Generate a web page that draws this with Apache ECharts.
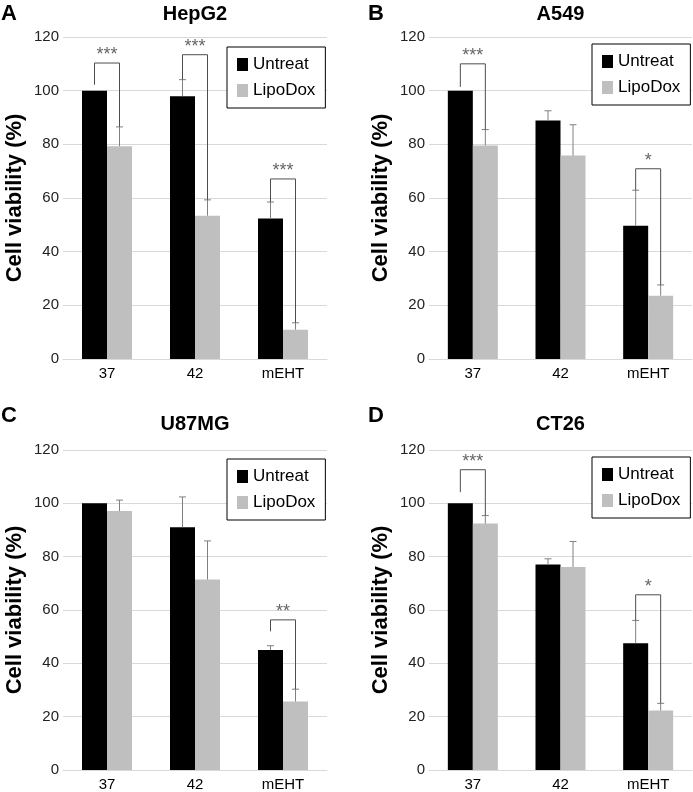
<!DOCTYPE html>
<html>
<head>
<meta charset="utf-8">
<script src="https://cdn.jsdelivr.net/npm/echarts@6/dist/echarts.min.js"></script>
<style>
  html, body { margin: 0; padding: 0; background: #fff; }
  #chart { width: 693px; height: 792px; }
</style>
</head>
<body>
<div id="chart"></div>
<script>
// categories and series names
const categories = ['37', '42', 'mEHT'];
const seriesNames = ['Untreat', 'LipoDox'];

// HepG2
const hepg2Untreat    = [100, 97.9, 52.4];
const hepg2UntreatErr = [0, 6.2, 6.1];
const hepg2Lipo       = [79.3, 53.4, 10.9];
const hepg2LipoErr    = [7.2, 5.9, 2.6];
// [category, bracket top, left leg end, right leg end, label]
const hepg2Sig = [[0, 110.3, 102.2, 86.5, '***'], [1, 113.4, 104.1, 59.3, '***'], [2, 67.1, 58.5, 13.5, '***']];

// A549
const a549Untreat    = [100, 88.9, 49.7];
const a549UntreatErr = [0, 3.6, 13.2];
const a549Lipo       = [79.6, 75.8, 23.6];
const a549LipoErr    = [5.9, 11.5, 4.0];
const a549Sig = [[0, 110, 101.4, 85.5, '***'], [2, 70.9, 62.9, 27.6, '*']];

// U87MG
const u87Untreat    = [100, 91.0, 45.0];
const u87UntreatErr = [0, 11.4, 1.6];
const u87Lipo       = [97.1, 71.4, 25.7];
const u87LipoErr    = [4.1, 14.5, 4.6];
const u87Sig = [[2, 56.3, 52, 30.3, '**']];

// CT26
const ct26Untreat    = [100, 77.1, 47.5];
const ct26UntreatErr = [0, 2.1, 8.6];
const ct26Lipo       = [92.4, 76.1, 22.3];
const ct26LipoErr    = [3.0, 9.6, 2.7];
const ct26Sig = [[0, 112.6, 104.2, 95.4, '***'], [2, 65.7, 56.1, 25.0, '*']];

const panels = [
  { letter: 'A', title: 'HepG2', u: hepg2Untreat, ue: hepg2UntreatErr, l: hepg2Lipo, le: hepg2LipoErr, sig: hepg2Sig,
    grid: { left: 63, top: 37, width: 264, height: 322 }, legend: { left: 227, top: 47 }, letterX: 1, letterY: 3, titleY: 4 },
  { letter: 'B', title: 'A549', u: a549Untreat, ue: a549UntreatErr, l: a549Lipo, le: a549LipoErr, sig: a549Sig,
    grid: { left: 429, top: 37, width: 263, height: 322 }, legend: { left: 592, top: 44 }, letterX: 368, letterY: 3, titleY: 4 },
  { letter: 'C', title: 'U87MG', u: u87Untreat, ue: u87UntreatErr, l: u87Lipo, le: u87LipoErr, sig: u87Sig,
    grid: { left: 63, top: 450, width: 264, height: 322 }, legend: { left: 227, top: 459 }, letterX: 1, letterY: 405, titleY: 414 },
  { letter: 'D', title: 'CT26', u: ct26Untreat, ue: ct26UntreatErr, l: ct26Lipo, le: ct26LipoErr, sig: ct26Sig,
    grid: { left: 429, top: 450, width: 263, height: 322 }, legend: { left: 592, top: 457 }, letterX: 368, letterY: 405, titleY: 414 }
];

const FONT = '"Liberation Sans", Arial, sans-serif';
const BAR_W = 25;
const OFF = BAR_W / 2;

const chart = echarts.init(document.getElementById('chart'));

const grids = [], xAxes = [], yAxes = [], legends = [], series = [], graphics = [];

panels.forEach((p, i) => {
  grids.push(p.grid);
  xAxes.push({
    type: 'category', gridIndex: i, data: categories,
    axisLine: { lineStyle: { color: '#d9d9d9', width: 1 } },
    axisTick: { show: false },
    axisLabel: { fontSize: 15, color: '#000', fontFamily: FONT, margin: 7 }
  });
  yAxes.push({
    type: 'value', gridIndex: i, min: 0, max: 120, interval: 20,
    name: 'Cell viability (%)', nameLocation: 'middle', nameGap: 37, nameRotate: 90,
    nameTextStyle: { fontSize: 22, fontWeight: 'bold', color: '#000', fontFamily: FONT },
    axisLine: { show: false }, axisTick: { show: false },
    axisLabel: { fontSize: 15, color: '#222', fontFamily: FONT, margin: 4 },
    splitLine: { lineStyle: { color: '#d9d9d9', width: 1 } }
  });
  legends.push({
    left: p.legend.left, top: p.legend.top, orient: 'vertical',
    data: seriesNames, icon: 'rect', itemWidth: 11, itemHeight: 13, itemGap: 9,
    padding: [9, 10, 9, 10], borderColor: '#000', borderWidth: 1, backgroundColor: '#fff',
    textStyle: { fontSize: 17, color: '#000', fontFamily: FONT },
    selectedMode: false
  });

  series.push({
    name: 'Untreat', type: 'bar', xAxisIndex: i, yAxisIndex: i, data: p.u,
    barWidth: BAR_W, barGap: '0%', itemStyle: { color: '#000' }, silent: true
  });
  series.push({
    name: 'LipoDox', type: 'bar', xAxisIndex: i, yAxisIndex: i, data: p.l,
    barWidth: BAR_W, barGap: '0%', itemStyle: { color: '#bfbfbf' }, silent: true
  });

  // error bars: [category, value, err, side]
  const errData = [];
  p.u.forEach((v, k) => errData.push([k, v, p.ue[k], -1]));
  p.l.forEach((v, k) => errData.push([k, v, p.le[k], 1]));
  series.push({
    type: 'custom', xAxisIndex: i, yAxisIndex: i, silent: true, z: 3,
    data: errData,
    renderItem: (params, api) => {
      const err = api.value(2);
      if (!err) return null;
      const base = api.coord([api.value(0), api.value(1)]);
      const top = api.coord([api.value(0), api.value(1) + err]);
      const x = base[0] + api.value(3) * OFF;
      const st = { stroke: '#808080', lineWidth: 1 };
      return {
        type: 'group',
        children: [
          { type: 'line', shape: { x1: x, y1: base[1], x2: x, y2: top[1] }, style: st },
          { type: 'line', shape: { x1: x - 3.5, y1: top[1], x2: x + 3.5, y2: top[1] }, style: st }
        ]
      };
    }
  });

  // significance brackets
  series.push({
    type: 'custom', xAxisIndex: i, yAxisIndex: i, silent: true, z: 4,
    data: p.sig,
    renderItem: (params, api) => {
      const c = api.value(0);
      const topPt = api.coord([c, api.value(1)]);
      const lEnd = api.coord([c, api.value(2)]);
      const rEnd = api.coord([c, api.value(3)]);
      const xl = topPt[0] - OFF, xr = topPt[0] + OFF;
      return {
        type: 'group',
        children: [
          { type: 'polyline', shape: { points: [[xl, lEnd[1]], [xl, topPt[1]], [xr, topPt[1]], [xr, rEnd[1]]] },
            style: { stroke: '#4d4d4d', lineWidth: 1, fill: null } },
          { type: 'text', x: topPt[0], y: topPt[1] + 1,
            style: { text: p.sig[params.dataIndex][4], fill: '#666', font: '18px ' + FONT,
                     textAlign: 'center', textVerticalAlign: 'bottom' } }
        ]
      };
    }
  });

  graphics.push({
    type: 'text', left: p.letterX, top: p.letterY,
    style: { text: p.letter, font: 'bold 22px ' + FONT, fill: '#000' }
  });
  graphics.push({
    type: 'text', x: p.grid.left + p.grid.width / 2, y: p.titleY,
    style: { text: p.title, font: 'bold 20px ' + FONT, fill: '#000', textAlign: 'center', textVerticalAlign: 'top' }
  });
});

chart.setOption({
  animation: false,
  grid: grids,
  xAxis: xAxes,
  yAxis: yAxes,
  legend: legends,
  series: series,
  graphic: graphics
});
</script>
</body>
</html>
